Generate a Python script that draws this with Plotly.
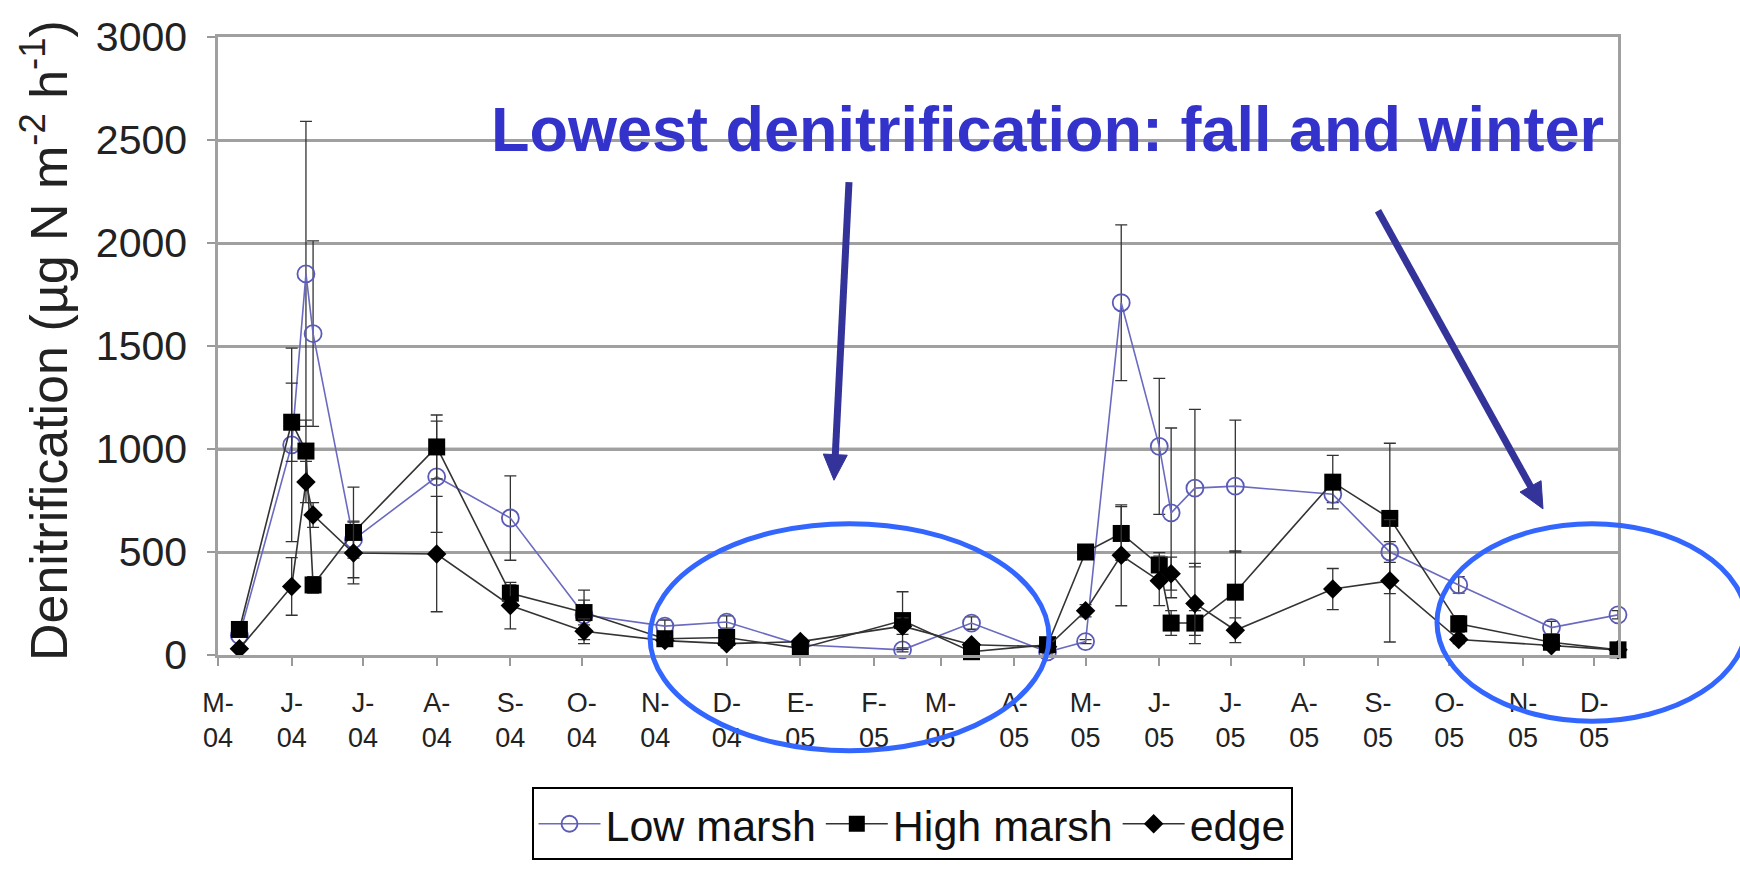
import math
import plotly.graph_objects as go
import pandas as pd

# ---------------- data ----------------
dates = ["2004-05-10", "2004-06-01", "2004-06-07", "2004-06-10", "2004-06-27",
         "2004-08-01", "2004-09-01", "2004-10-02", "2004-11-05", "2004-12-01",
         "2005-01-01", "2005-02-13", "2005-03-14", "2005-04-15", "2005-05-01",
         "2005-05-16", "2005-06-01", "2005-06-06", "2005-06-16", "2005-07-03",
         "2005-08-13", "2005-09-06", "2005-10-05", "2005-11-13", "2005-12-11"]

low_marsh = [95, 1020, 1850, 1560, 560, 865, 665, 195, 140, 160,
             50, 25, 155, 15, 65, 1710, 1013, 690, 810, 820,
             780, 500, 340, 133, 195]
low_marsh_err = [0, 470, 740, 450, 90, 270, 205, 120, 30, 30,
                 10, 10, 30, 10, 10, 378, 330, 412, 382, 320,
                 40, 50, 40, 30, 20]

high_marsh = [124, 1130, 990, 340, 595, 1010, 300, 206, 79, 85,
              32, 167, 16, 50, 500, 590, 437, 155, 155, 305,
              839, 663, 151, 62, 25]
high_marsh_err = [20, 190, 150, 40, 220, 155, 40, 60, 20, 20,
                  10, 140, 10, 10, 30, 130, 60, 60, 60, 200,
                  130, 365, 40, 20, 10]

edge = [30, 333, 840, 680, 495, 490, 240, 115, 70, 55,
        65, 140, 50, 40, 215, 484, 360, 395, 250, 120,
        320, 360, 75, 45, 25]
edge_err = [10, 140, 100, 60, 150, 280, 113, 60, 20, 20,
            10, 40, 10, 10, 30, 245, 120, 80, 195, 60,
            100, 297, 20, 10, 10]

month_letters = ["M", "J", "J", "A", "S", "O", "N", "D", "E", "F",
                 "M", "A", "M", "J", "J", "A", "S", "O", "N", "D"]
month_years = ["04"] * 8 + ["05"] * 12
y_ticks = [0, 500, 1000, 1500, 2000, 2500, 3000]

series_names = ["Low marsh", "High marsh", "edge"]
# ---------------------------------------------------------------

tick_dates = pd.date_range("2004-05-01", "2005-12-01", freq="MS")
tick_text = [f"{m}-<br>{y}" for m, y in zip(month_letters, month_years)]

W, H = 1740, 872
L, R, T, B = 218, 1618, 37, 663   # plot area in pixels


def px(x):
    return (x - L) / (R - L)


def py(y):
    return (B - y) / (B - T)


FONT = "Liberation Sans, Arial, Helvetica, sans-serif"
err_style = dict(type="data", visible=True, color="#333333", thickness=1.3, width=6)

fig = go.Figure()
fig.add_trace(go.Scatter(
    x=dates, y=low_marsh, name=series_names[0], mode="lines+markers",
    line=dict(color="#6a6ac0", width=1.6),
    marker=dict(symbol="circle-open", size=17, color="#5a5ab8", line=dict(width=1.8)),
    error_y=dict(array=low_marsh_err, **err_style), cliponaxis=False))
fig.add_trace(go.Scatter(
    x=dates, y=high_marsh, name=series_names[1], mode="lines+markers",
    line=dict(color="#333333", width=1.6),
    marker=dict(symbol="square", size=17, color="#000000"),
    error_y=dict(array=high_marsh_err, **err_style), cliponaxis=False))
fig.add_trace(go.Scatter(
    x=dates, y=edge, name=series_names[2], mode="lines+markers",
    line=dict(color="#333333", width=1.6),
    marker=dict(symbol="diamond", size=15, color="#000000"),
    error_y=dict(array=edge_err, **err_style), cliponaxis=False))

fig.update_layout(
    width=W, height=H,
    margin=dict(l=L, r=W - R, t=T, b=H - B, pad=0),
    paper_bgcolor="white", plot_bgcolor="white",
    font=dict(family=FONT, color="#222222"),
    showlegend=True,
    legend=dict(orientation="h", x=px(912), xanchor="center", y=py(797), yanchor="top",
                bordercolor="#000000", borderwidth=2, bgcolor="white",
                font=dict(size=43, color="#111111"), itemwidth=62,
                tracegroupgap=0),
    xaxis=dict(type="date", range=["2004-05-01", "2005-12-11"],
               tickvals=tick_dates, ticktext=tick_text,
               tickfont=dict(size=27, color="#222222"),
               ticks="outside", ticklen=8, tickwidth=1.5, tickcolor="#999999",
               ticklabelstandoff=14,
               showgrid=False, zeroline=False,
               showline=True, mirror=True, linecolor="#a0a0a0", linewidth=2.5),
    yaxis=dict(range=[0, 3000], tickvals=y_ticks,
               tickfont=dict(size=41, color="#222222"),
               ticks="outside", ticklen=8, tickwidth=1.5, tickcolor="#999999",
               ticklabelstandoff=12,
               showgrid=True, gridcolor="#a0a0a0", gridwidth=2.5,
               zeroline=False,
               showline=True, mirror=True, linecolor="#a0a0a0", linewidth=2.5),
)

# darker 1000 gridline as in the reference
fig.add_shape(type="line", xref="paper", x0=0, x1=1, yref="y", y0=1000, y1=1000,
              line=dict(color="#555555", width=2.5), layer="below")

# y axis title
fig.add_annotation(
    text="Denitrification (µg N m<sup>-2</sup> h<sup>-1</sup>)",
    xref="paper", yref="paper", x=px(45), y=py(345), textangle=-90,
    showarrow=False, font=dict(size=52, color="#222222", family=FONT),
    xanchor="center", yanchor="middle")

# headline annotation
fig.add_annotation(
    text="<b>Lowest denitrification: fall and winter</b>",
    xref="paper", yref="paper", x=px(1047), y=py(130),
    showarrow=False, font=dict(size=63, color="#3333cc", family=FONT),
    xanchor="center", yanchor="middle")


# arrows drawn as shapes (shaft + triangular head), in pixel geometry
def add_arrow(tail, tip, color="#333399", width=7, head_len=26, head_half=12):
    dx, dy = tip[0] - tail[0], tip[1] - tail[1]
    n = math.hypot(dx, dy)
    ux, uy = dx / n, dy / n
    bx, by = tip[0] - head_len * ux, tip[1] - head_len * uy
    nx, ny = -uy, ux
    fig.add_shape(type="line", xref="paper", yref="paper",
                  x0=px(tail[0]), y0=py(tail[1]), x1=px(bx + 2 * ux), y1=py(by + 2 * uy),
                  line=dict(color=color, width=width))
    p1 = (px(tip[0]), py(tip[1]))
    p2 = (px(bx + head_half * nx), py(by + head_half * ny))
    p3 = (px(bx - head_half * nx), py(by - head_half * ny))
    path = f"M {p1[0]},{p1[1]} L {p2[0]},{p2[1]} L {p3[0]},{p3[1]} Z"
    fig.add_shape(type="path", xref="paper", yref="paper", path=path,
                  fillcolor=color, line=dict(color=color, width=1))


add_arrow((849, 184), (834, 486))
add_arrow((1378, 213), (1543, 515))

# ellipses
fig.add_shape(type="circle", xref="paper", yref="paper",
              x0=px(650), x1=px(1049), y0=py(760), y1=py(530),
              line=dict(color="#3366ff", width=5))
fig.add_shape(type="circle", xref="paper", yref="paper",
              x0=px(1437), x1=px(1747), y0=py(730), y1=py(530),
              line=dict(color="#3366ff", width=5))

fig.write_html("out.html")
